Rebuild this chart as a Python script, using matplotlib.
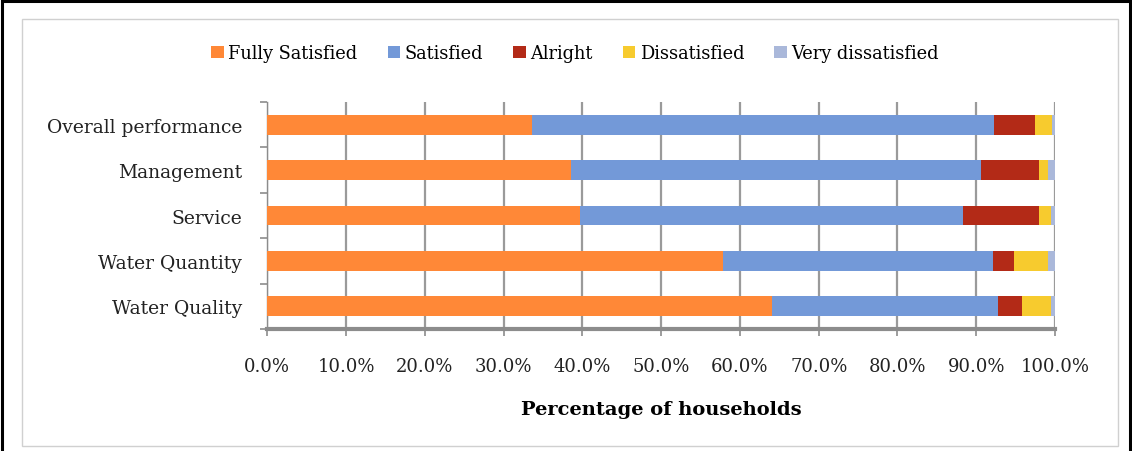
import numpy as np
import matplotlib.pyplot as plt
from matplotlib.patches import Rectangle
from matplotlib.ticker import FuncFormatter

categories = ['Overall performance', 'Management', 'Service', 'Water Quantity', 'Water Quality']
levels = ['Fully Satisfied', 'Satisfied', 'Alright', 'Dissatisfied', 'Very dissatisfied']
fully_satisfied = [33.6, 38.6, 39.7, 57.8, 64.1]
satisfied = [58.7, 52.0, 48.6, 34.3, 28.7]
alright = [5.2, 7.4, 9.7, 2.7, 3.0]
dissatisfied = [2.1, 1.1, 1.5, 4.3, 3.7]
very_dissatisfied = [0.4, 0.9, 0.5, 0.9, 0.5]
colors = ['#FF8837', '#7399D8', '#B32A17', '#F7CB2E', '#AAB8DA']

plt.rcParams['font.family'] = 'DejaVu Serif'

W, H = 1132, 452
fig = plt.figure(figsize=(W / 100, H / 100), dpi=100)

# outer black border and light grey chart frame
fig.patches.append(Rectangle((1.5 / W, -0.01), 1 - 4 / W, 1 - 1.5 / H + 0.01,
                             transform=fig.transFigure, fill=False,
                             edgecolor='black', linewidth=2.2))
fig.patches.append(Rectangle((22 / W, 5 / H), (1118 - 22) / W, (447 - 20) / H,
                             transform=fig.transFigure, fill=False,
                             edgecolor='#d0d0d0', linewidth=1.0))

ax = fig.add_axes([267.3 / W, 1 - 330 / H, (1055 - 267.3) / W, (330 - 103) / H])

series = [fully_satisfied, satisfied, alright, dissatisfied, very_dissatisfied]
y = np.arange(len(categories))[::-1]
left = np.zeros(len(categories))
for name, vals, c in zip(levels, series, colors):
    ax.barh(y, vals, left=left, height=0.44, color=c, label=name, zorder=3)
    left += np.array(vals)

ax.set_xlim(0, 100)
ax.set_ylim(-0.5, 4.5)
ax.set_xticks(np.arange(0, 101, 10))
ax.xaxis.set_major_formatter(FuncFormatter(lambda v, p: f'{v:.1f}%'))
ax.set_yticks(y)
ax.set_yticklabels(categories)
ax.set_yticks(np.arange(-0.5, 4.6, 1), minor=True)

ax.grid(axis='x', color='#9a9a9a', linewidth=1.6, zorder=0)
for s in ['top', 'right']:
    ax.spines[s].set_visible(False)
ax.spines['left'].set_color('#8c8c8c')
ax.spines['left'].set_linewidth(1.0)
ax.spines['bottom'].set_color('#8c8c8c')
ax.spines['bottom'].set_linewidth(3.0)
ax.spines['bottom'].set_zorder(4)

ax.tick_params(axis='x', length=5, width=1.2, color='#8c8c8c', pad=15, labelsize=13)
ax.tick_params(axis='y', which='major', length=0, pad=18, labelsize=13.5)
ax.tick_params(axis='y', which='minor', length=5, width=1.2, color='#8c8c8c')
for t in ax.get_xticklabels() + ax.get_yticklabels():
    t.set_color('#222222')

ax.set_xlabel('Percentage of households', fontsize=14, fontweight='bold', labelpad=18)

handles, labels = ax.get_legend_handles_labels()
fig.legend(handles, labels, loc='center', bbox_to_anchor=(575 / W, 1 - 54 / H),
           ncol=5, frameon=False, fontsize=12.8, handlelength=0.7, handleheight=0.7,
           handletextpad=0.25, columnspacing=1.7)

fig.savefig('out.png', dpi=100)
